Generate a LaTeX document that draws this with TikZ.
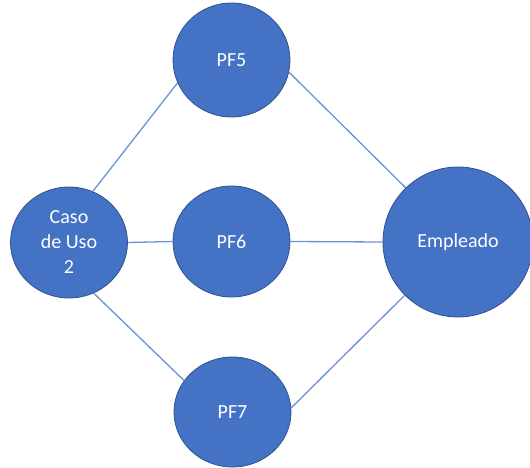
\documentclass[tikz,border=0pt]{standalone}
\usepackage{fontspec}
\setmainfont{Carlito}
\usetikzlibrary{shapes.geometric}
\definecolor{nodefill}{HTML}{4472C4}
\definecolor{nodeedge}{HTML}{2F528F}
\definecolor{linkcol}{HTML}{6A93D4}
\begin{document}
\begin{tikzpicture}[x=1pt,y=-1pt,
  bubble/.style={ellipse, draw=nodeedge, line width=0.8pt, fill=nodefill, text=white,
    inner sep=0pt, font=\fontsize{20}{25}\selectfont, align=center},
  link/.style={draw=linkcol, line width=1.3pt}]
\useasboundingbox (0,0) rectangle (530,468);
\node[bubble, minimum width=117pt, minimum height=111pt] (caso) at (69,242.5) {Caso\\de Uso\\2};
\node[bubble, minimum width=117pt, minimum height=114pt] (pf5) at (231.5,60) {PF5};
\node[bubble, minimum width=117pt, minimum height=111pt] (pf6) at (231.5,241.5) {PF6};
\node[bubble, minimum width=117pt, minimum height=110pt] (pf7) at (232.5,412) {PF7};
\node[bubble, minimum width=150pt, minimum height=150pt] (emp) at (458,242) {Empleado};
\draw[link] (caso.65.8) -- (pf5.203);
\draw[link] (caso.east) -- (pf6.west);
\draw[link] (caso.-64.6) -- (pf7.147);
\draw[link] (pf5.-12) -- (emp.134.5);
\draw[link] (pf6.east) -- (emp.west);
\draw[link] (pf7.4) -- (emp.225.5);
\end{tikzpicture}
\end{document}
